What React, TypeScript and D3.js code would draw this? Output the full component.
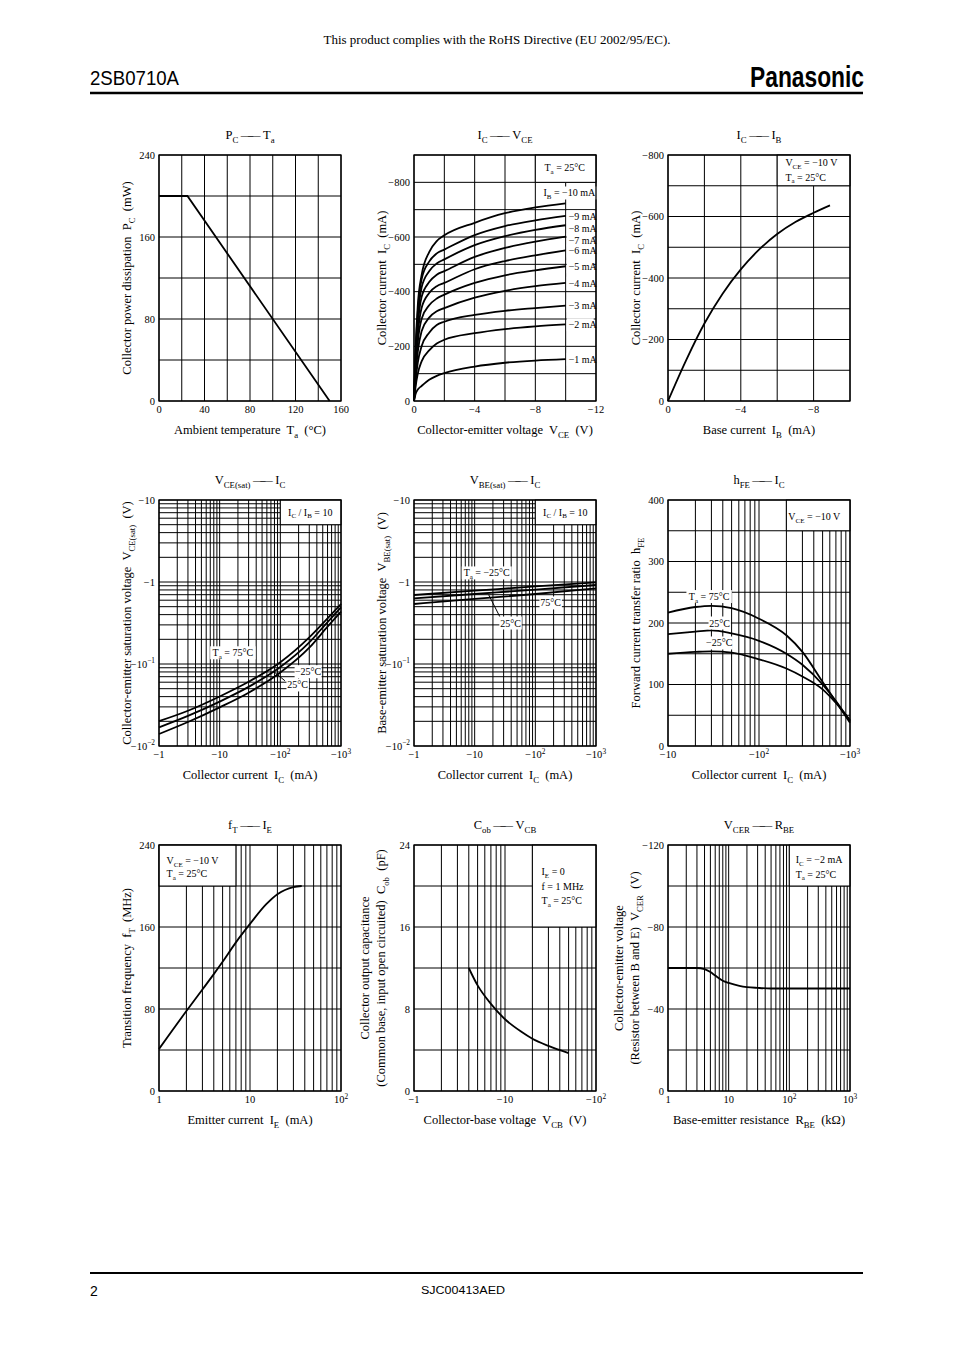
import React from "react";
import * as d3 from "d3";

const SERIF = "'Liberation Serif','Times New Roman',Times,serif";
const SANS = "'Liberation Sans',Arial,Helvetica,sans-serif";

// ---------------- DATA ----------------
// PC - Ta
const pcTaTemp = [0, 25, 150];
const pcTaPower = [200, 200, 0];
const pcTaXTicks = [0, 40, 80, 120, 160];
const pcTaYTicks = [0, 80, 160, 240];

// IC - VCE (Ta = 25°C)
const icVceVoltage = [0, -0.1, -0.25, -0.5, -1, -1.5, -2, -4, -6, -8, -10];
const icVceIb1 = [0, -25, -42, -55, -78, -92, -102, -126, -140, -148, -153];
const icVceIb2 = [0, -50, -100, -145, -185, -210, -224, -248, -263, -273, -280];
const icVceIb3 = [0, -70, -140, -200, -250, -278, -290, -315, -330, -340, -349];
const icVceIb4 = [0, -90, -180, -255, -305, -328, -340, -378, -403, -420, -432];
const icVceIb5 = [0, -110, -215, -300, -350, -375, -389, -432, -460, -478, -493];
const icVceIb6 = [0, -125, -245, -340, -395, -420, -432, -482, -512, -533, -551];
const icVceIb7 = [0, -140, -275, -380, -435, -462, -475, -527, -560, -583, -601];
const icVceIb8 = [0, -155, -300, -415, -475, -503, -518, -570, -603, -626, -643];
const icVceIb9 = [0, -170, -325, -445, -510, -540, -554, -607, -640, -661, -677];
const icVceIb10 = [0, -185, -350, -460, -545, -585, -606, -652, -687, -708, -723];
const icVceLabelY = [-153, -279, -348, -431, -491, -549, -589, -632, -674];
const icVceLabels = ["−1 mA", "−2 mA", "−3 mA", "−4 mA", "−5 mA", "−6 mA", "−7 mA", "−8 mA", "−9 mA"];
const icVceXTicks = [0, -4, -8, -12];
const icVceYTicks = [0, -200, -400, -600, -800];

// IC - IB
const icIbBase = [0, -1, -2, -3, -4, -5, -6, -7, -8, -8.9];
const icIbCollector = [0, -133, -252, -349, -428, -492, -543, -582, -612, -636];
const icIbXTicks = [0, -4, -8];
const icIbYTicks = [0, -200, -400, -600, -800];

// VCE(sat) - IC
const vceSatIc = [-1, -3, -10, -30, -100, -300, -600, -1000];
const vceSat75 = [-0.0201, -0.0269, -0.0402, -0.0607, -0.105, -0.211, -0.36, -0.54];
const vceSat25 = [-0.0169, -0.0233, -0.0348, -0.0526, -0.0917, -0.183, -0.325, -0.49];
const vceSatM25 = [-0.014, -0.0196, -0.0296, -0.0447, -0.0787, -0.158, -0.285, -0.435];

// VBE(sat) - IC
const vbeSatIc = [-1, -10, -100, -1000];
const vbeSatM25 = [-0.694, -0.783, -0.885, -0.99];
const vbeSat25 = [-0.632, -0.714, -0.806, -0.919];
const vbeSat75 = [-0.539, -0.621, -0.714, -0.837];

const satXTicks = [-1, -10, -100, -1000];
const satXLabels = ["−1", "−10", "−10^{2}", "−10^{3}"];
const satYTicks = [-0.01, -0.1, -1, -10];
const satYLabels = ["−10^{−2}", "−10^{−1}", "−1", "−10"];

// hFE - IC
const hfeIc = [-10, -20, -30, -50, -100, -200, -300, -500, -700, -1000];
const hfe75 = [217, 226, 228, 224, 207, 180, 153, 104, 72, 38];
const hfe25 = [182, 186, 188, 183, 171, 150, 132, 100, 73, 40];
const hfeM25 = [150, 153, 154, 152, 141, 126, 113, 92, 70, 42];
const hfeXTicks = [-10, -100, -1000];
const hfeXLabels = ["−10", "−10^{2}", "−10^{3}"];
const hfeYTicks = [0, 100, 200, 300, 400];

// fT - IE
const ftIe = [1, 2, 3, 4, 5, 7, 10, 15, 20, 30, 37];
const ftFreq = [41, 78, 99, 114, 126, 145, 163, 182, 192, 199, 200];
const ftXTicks = [1, 10, 100];
const ftXLabels = ["1", "10", "10^{2}"];
const ftYTicks = [0, 80, 160, 240];

// Cob - VCB
const cobVcb = [-4, -5, -7, -10, -15, -20, -30, -50];
const cobCap = [12, 10.3, 8.5, 7.0, 5.8, 5.1, 4.4, 3.7];
const cobXTicks = [-1, -10, -100];
const cobXLabels = ["−1", "−10", "−10^{2}"];
const cobYTicks = [0, 8, 16, 24];

// VCER - RBE
const vcerRbe = [1, 2, 3, 4, 5, 6, 8, 10, 15, 20, 30, 50, 100, 1000];
const vcerVolt = [-60, -60, -60, -59.5, -58, -56.3, -53.8, -52.7, -51.3, -50.7, -50.3, -50, -50, -50];
const vcerXTicks = [1, 10, 100, 1000];
const vcerXLabels = ["1", "10", "10^{2}", "10^{3}"];
const vcerYTicks = [0, -40, -80, -120];

// ---------------- HELPERS ----------------
const fmt = (v: number) => (v < 0 ? "−" + Math.abs(v) : String(v));
const zip = (t: number[], l?: string[]) => t.map((v, i) => [v, l ? l[i] : fmt(v)] as [number, string]);
const lin = (a: number, b: number, step: number) => {
  const out: number[] = [];
  const n = Math.round((b - a) / step);
  for (let i = 0; i <= n; i++) out.push(a + i * step);
  return out;
};
const logGrid = (a: number, b: number, sign = 1) => {
  const out: number[] = [];
  for (let d = a; d < b * 0.999; d *= 10) for (let m = 1; m < 10; m++) out.push(+(d * m).toPrecision(6));
  out.push(b);
  return out.map((v) => v * sign);
};
const plain = (s: string) => s.replace(/[_^~]\{([^}]*)\}/g, "$1");

function Rich({ x, y, s, size = 10, anchor = "start", family = SERIF, rotate = false, weight, textLength }: any) {
  const parts: string[] = s.split(/(_\{[^}]*\}|\^\{[^}]*\}|~\{[^}]*\})/).filter((p: string) => p !== "");
  let cur = 0;
  let pendingDx = 0;
  const spans = parts.map((p, i) => {
    let txt = p;
    let fs = size;
    let target = 0;
    let ls: number | undefined = undefined;
    if (p.startsWith("_{")) {
      txt = p.slice(2, -1);
      fs = size * 0.7;
      target = size * 0.28;
    } else if (p.startsWith("^{")) {
      txt = p.slice(2, -1);
      fs = size * 0.7;
      target = -size * 0.4;
    } else if (p.startsWith("~{")) {
      txt = p.slice(2, -1);
      ls = -size * 0.42;
    }
    const dy = target - cur;
    cur = target;
    const dx = pendingDx;
    pendingDx = ls !== undefined ? -ls : 0;
    return (
      <tspan key={i} dy={dy} dx={dx || undefined} fontSize={fs} letterSpacing={ls}>
        {txt}
      </tspan>
    );
  });
  return (
    <text
      x={rotate ? 0 : x}
      y={rotate ? 0 : y}
      transform={rotate ? `translate(${x},${y}) rotate(-90)` : undefined}
      textAnchor={anchor}
      fontFamily={family}
      fontSize={size}
      fontWeight={weight}
      textLength={textLength}
      lengthAdjust={textLength ? "spacingAndGlyphs" : undefined}
      style={{ whiteSpace: "pre" }}
      fill="#000"
    >
      {spans}
    </text>
  );
}

type Note = { x: number; y: number; s: string; anchor?: string; bg?: boolean };
type ChartCfg = {
  left: number;
  top: number;
  xLog: boolean;
  xDomain: [number, number];
  yLog: boolean;
  yDomain: [number, number];
  xGrid: number[];
  yGrid: number[];
  xTicks: [number, string][];
  yTicks: [number, string][];
  series: { x: number[]; y: number[] }[];
  straight?: boolean;
  box?: [number, number, number, number];
  title: string;
  xTitle: string;
  yTitle: string[];
  notes: Note[];
  arrows?: [number, number, number, number][];
};

const PW = 182;
const PH = 246;

function Chart({ c }: { c: ChartCfg }) {
  const { left, top } = c;
  const bottom = top + PH;
  const right = left + PW;
  const xs: any = (c.xLog ? d3.scaleLog() : d3.scaleLinear()).domain(c.xDomain).range([left, right]);
  const ys: any = (c.yLog ? d3.scaleLog() : d3.scaleLinear()).domain(c.yDomain).range([bottom, top]);
  const line = d3
    .line<[number, number]>()
    .x((d) => xs(d[0]))
    .y((d) => ys(d[1]))
    .curve(c.straight ? d3.curveLinear : d3.curveMonotoneX);
  const cx = left + PW / 2;
  const cy = top + PH / 2;
  return (
    <g>
      {c.xGrid.map((v, i) => (
        <line key={"gx" + i} x1={xs(v)} x2={xs(v)} y1={top} y2={bottom} stroke="#000" strokeWidth={1} />
      ))}
      {c.yGrid.map((v, i) => (
        <line key={"gy" + i} x1={left} x2={right} y1={ys(v)} y2={ys(v)} stroke="#000" strokeWidth={1} />
      ))}
      {c.box && (
        <rect
          x={Math.min(xs(c.box[0]), xs(c.box[1]))}
          y={Math.min(ys(c.box[2]), ys(c.box[3]))}
          width={Math.abs(xs(c.box[1]) - xs(c.box[0]))}
          height={Math.abs(ys(c.box[3]) - ys(c.box[2]))}
          fill="#fff"
          stroke="#000"
          strokeWidth={1}
        />
      )}
      {c.series.map((s, i) => (
        <path
          key={"s" + i}
          d={line(s.x.map((v, j) => [v, s.y[j]] as [number, number])) || ""}
          fill="none"
          stroke="#000"
          strokeWidth={1.8}
        />
      ))}
      {(c.arrows || []).map((a, i) => (
        <line key={"a" + i} x1={xs(a[0])} y1={ys(a[1])} x2={xs(a[2])} y2={ys(a[3])} stroke="#000" strokeWidth={1} />
      ))}
      {c.notes.map((n, i) => {
        const px = xs(n.x);
        const py = ys(n.y);
        const size = 10;
        const w = plain(n.s).length * size * 0.46 + 4;
        const anchor = n.anchor || "start";
        const rx = anchor === "start" ? px - 2 : anchor === "middle" ? px - w / 2 : px - w + 2;
        return (
          <g key={"n" + i}>
            {n.bg && <rect x={rx} y={py - 6.5} width={w} height={13} fill="#fff" />}
            <Rich x={px} y={py + 3.5} s={n.s} size={size} anchor={anchor} />
          </g>
        );
      })}
      <rect x={left} y={top} width={PW} height={PH} fill="none" stroke="#000" strokeWidth={1.3} />
      {c.xTicks.map(([v, l], i) => (
        <Rich key={"xt" + i} x={xs(v)} y={bottom + 12} s={l} size={10.5} anchor="middle" />
      ))}
      {c.yTicks.map(([v, l], i) => (
        <Rich key={"yt" + i} x={left - 4} y={ys(v) + 3.5} s={l} size={10.5} anchor="end" />
      ))}
      <Rich x={cx} y={top - 16} s={c.title} size={12.5} anchor="middle" />
      <Rich x={cx} y={bottom + 33} s={c.xTitle} size={12.5} anchor="middle" />
      {c.yTitle.length === 1 ? (
        <Rich x={left - 28} y={cy} s={c.yTitle[0]} size={12.5} anchor="middle" rotate />
      ) : (
        <>
          <Rich x={left - 45} y={cy} s={c.yTitle[0]} size={12.5} anchor="middle" rotate />
          <Rich x={left - 29} y={cy} s={c.yTitle[1]} size={12.5} anchor="middle" rotate />
        </>
      )}
    </g>
  );
}

const COL = [159, 414, 668];
const ROW = [155, 500, 845];
const DASH = "\u2009~{\u2014\u2014}\u2009";

const icVceSeries = [icVceIb1, icVceIb2, icVceIb3, icVceIb4, icVceIb5, icVceIb6, icVceIb7, icVceIb8, icVceIb9, icVceIb10].map(
  (y) => ({ x: icVceVoltage, y })
);

const charts: ChartCfg[] = [
  {
    left: COL[0],
    top: ROW[0],
    xLog: false,
    xDomain: [0, 160],
    yLog: false,
    yDomain: [0, 240],
    xGrid: lin(0, 160, 20),
    yGrid: lin(0, 240, 40),
    xTicks: zip(pcTaXTicks),
    yTicks: zip(pcTaYTicks),
    series: [{ x: pcTaTemp, y: pcTaPower }],
    straight: true,
    title: "P_{C}" + DASH + "T_{a}",
    xTitle: "Ambient temperature  T_{a}  (°C)",
    yTitle: ["Collector power dissipation  P_{C}  (mW)"],
    notes: [],
  },
  {
    left: COL[1],
    top: ROW[0],
    xLog: false,
    xDomain: [0, -12],
    yLog: false,
    yDomain: [0, -900],
    xGrid: lin(0, -12, -2),
    yGrid: lin(0, -900, -100),
    xTicks: zip(icVceXTicks),
    yTicks: zip(icVceYTicks),
    series: icVceSeries,
    box: [-8, -12, -800, -900],
    title: "I_{C}" + DASH + "V_{CE}",
    xTitle: "Collector-emitter voltage  V_{CE}  (V)",
    yTitle: ["Collector current  I_{C}  (mA)"],
    notes: [
      { x: -8.6, y: -855, s: "T_{a} = 25°C" },
      { x: -11.95, y: -761, s: "I_{B} = −10 mA", anchor: "end", bg: true },
      ...icVceLabelY.map((y, i) => ({ x: -10.2, y, s: icVceLabels[i], bg: true })),
    ],
  },
  {
    left: COL[2],
    top: ROW[0],
    xLog: false,
    xDomain: [0, -10],
    yLog: false,
    yDomain: [0, -800],
    xGrid: lin(0, -10, -2),
    yGrid: lin(0, -800, -100),
    xTicks: zip(icIbXTicks),
    yTicks: zip(icIbYTicks),
    series: [{ x: icIbBase, y: icIbCollector }],
    box: [-6, -10, -700, -800],
    title: "I_{C}" + DASH + "I_{B}",
    xTitle: "Base current  I_{B}  (mA)",
    yTitle: ["Collector current  I_{C}  (mA)"],
    notes: [
      { x: -6.45, y: -774, s: "V_{CE} = −10 V" },
      { x: -6.45, y: -728, s: "T_{a} = 25°C" },
    ],
  },
  {
    left: COL[0],
    top: ROW[1],
    xLog: true,
    xDomain: [-1, -1000],
    yLog: true,
    yDomain: [-0.01, -10],
    xGrid: logGrid(1, 1000, -1),
    yGrid: logGrid(0.01, 10, -1),
    xTicks: zip(satXTicks, satXLabels),
    yTicks: zip(satYTicks, satYLabels),
    series: [
      { x: vceSatIc, y: vceSat75 },
      { x: vceSatIc, y: vceSat25 },
      { x: vceSatIc, y: vceSatM25 },
    ],
    box: [-100, -1000, -5, -10],
    title: "V_{CE(sat)}" + DASH + "I_{C}",
    xTitle: "Collector current  I_{C}  (mA)",
    yTitle: ["Collector-emitter saturation voltage  V_{CE(sat)}  (V)"],
    notes: [
      { x: -134, y: -7.1, s: "I_{C} / I_{B} = 10" },
      { x: -16.5, y: -0.137, s: "T_{a} = 75°C", anchor: "middle", bg: true },
      { x: -287, y: -0.0806, s: "−25°C", anchor: "middle", bg: true },
      { x: -193, y: -0.0555, s: "25°C", anchor: "middle", bg: true },
    ],
    arrows: [[-119, -0.0625, -76, -0.082]],
  },
  {
    left: COL[1],
    top: ROW[1],
    xLog: true,
    xDomain: [-1, -1000],
    yLog: true,
    yDomain: [-0.01, -10],
    xGrid: logGrid(1, 1000, -1),
    yGrid: logGrid(0.01, 10, -1),
    xTicks: zip(satXTicks, satXLabels),
    yTicks: zip(satYTicks, satYLabels),
    series: [
      { x: vbeSatIc, y: vbeSatM25 },
      { x: vbeSatIc, y: vbeSat25 },
      { x: vbeSatIc, y: vbeSat75 },
    ],
    box: [-100, -1000, -5, -10],
    title: "V_{BE(sat)}" + DASH + "I_{C}",
    xTitle: "Collector current  I_{C}  (mA)",
    yTitle: ["Base-emitter saturation voltage  V_{BE(sat)}  (V)"],
    notes: [
      { x: -134, y: -7.1, s: "I_{C} / I_{B} = 10" },
      { x: -15.8, y: -1.29, s: "T_{a} = −25°C", anchor: "middle", bg: true },
      { x: -179, y: -0.555, s: "75°C", anchor: "middle", bg: true },
      { x: -39, y: -0.316, s: "25°C", anchor: "middle", bg: true },
    ],
    arrows: [[-26, -0.377, -17, -0.7]],
  },
  {
    left: COL[2],
    top: ROW[1],
    xLog: true,
    xDomain: [-10, -1000],
    yLog: false,
    yDomain: [0, 400],
    xGrid: logGrid(10, 1000, -1),
    yGrid: lin(0, 400, 50),
    xTicks: zip(hfeXTicks, hfeXLabels),
    yTicks: zip(hfeYTicks),
    series: [
      { x: hfeIc, y: hfe75 },
      { x: hfeIc, y: hfe25 },
      { x: hfeIc, y: hfeM25 },
    ],
    box: [-200, -1000, 350, 400],
    title: "h_{FE}" + DASH + "I_{C}",
    xTitle: "Collector current  I_{C}  (mA)",
    yTitle: ["Forward current transfer ratio  h_{FE}"],
    notes: [
      { x: -210, y: 373, s: "V_{CE} = −10 V" },
      { x: -28.3, y: 243, s: "T_{a} = 75°C", anchor: "middle", bg: true },
      { x: -37, y: 200, s: "25°C", anchor: "middle", bg: true },
      { x: -36.5, y: 167.5, s: "−25°C", anchor: "middle", bg: true },
    ],
  },
  {
    left: COL[0],
    top: ROW[2],
    xLog: true,
    xDomain: [1, 100],
    yLog: false,
    yDomain: [0, 240],
    xGrid: logGrid(1, 100),
    yGrid: lin(0, 240, 40),
    xTicks: zip(ftXTicks, ftXLabels),
    yTicks: zip(ftYTicks),
    series: [{ x: ftIe, y: ftFreq }],
    box: [1, 7, 200, 240],
    title: "f_{T}" + DASH + "I_{E}",
    xTitle: "Emitter current  I_{E}  (mA)",
    yTitle: ["Transition frequency  f_{T}  (MHz)"],
    notes: [
      { x: 1.21, y: 225, s: "V_{CE} = −10 V" },
      { x: 1.21, y: 212, s: "T_{a} = 25°C" },
    ],
  },
  {
    left: COL[1],
    top: ROW[2],
    xLog: true,
    xDomain: [-1, -100],
    yLog: false,
    yDomain: [0, 24],
    xGrid: logGrid(1, 100, -1),
    yGrid: lin(0, 24, 4),
    xTicks: zip(cobXTicks, cobXLabels),
    yTicks: zip(cobYTicks),
    series: [{ x: cobVcb, y: cobCap }],
    box: [-20, -100, 16, 24],
    title: "C_{ob}" + DASH + "V_{CB}",
    xTitle: "Collector-base voltage  V_{CB}  (V)",
    yTitle: ["Collector output capacitance", "(Common base, input open circuited)  C_{ob}  (pF)"],
    notes: [
      { x: -25.2, y: 21.4, s: "I_{E} = 0" },
      { x: -25.2, y: 20, s: "f = 1 MHz" },
      { x: -25.2, y: 18.6, s: "T_{a} = 25°C" },
    ],
  },
  {
    left: COL[2],
    top: ROW[2],
    xLog: true,
    xDomain: [1, 1000],
    yLog: false,
    yDomain: [0, -120],
    xGrid: logGrid(1, 1000),
    yGrid: lin(0, -120, -20),
    xTicks: zip(vcerXTicks, vcerXLabels),
    yTicks: zip(vcerYTicks),
    series: [{ x: vcerRbe, y: vcerVolt }],
    box: [100, 1000, -100, -120],
    title: "V_{CER}" + DASH + "R_{BE}",
    xTitle: "Base-emitter resistance  R_{BE}  (kΩ)",
    yTitle: ["Collector-emitter voltage", "(Resistor between B and E)  V_{CER}  (V)"],
    notes: [
      { x: 127, y: -112.7, s: "I_{C} = −2 mA" },
      { x: 127, y: -105.8, s: "T_{a} = 25°C" },
    ],
  },
];

export default function App() {
  return (
    <svg
      width={954}
      height={1350}
      viewBox="0 0 954 1350"
      style={{ position: "absolute", left: 0, top: 0, background: "#fff" }}
    >
      <rect x={0} y={0} width={954} height={1350} fill="#fff" />
      <Rich x={497} y={44} s="This product complies with the RoHS Directive (EU 2002/95/EC)." size={12} anchor="middle" textLength={347} />
      <Rich x={90} y={85} s="2SB0710A" size={21} family={SANS} textLength={89} />
      <Rich x={864} y={87} s="Panasonic" size={29} family={SANS} weight="bold" anchor="end" textLength={114} />
      <line x1={90} x2={863} y1={93} y2={93} stroke="#000" strokeWidth={2.5} />
      {charts.map((c, i) => (
        <Chart key={i} c={c} />
      ))}
      <line x1={90} x2={863} y1={1273} y2={1273} stroke="#000" strokeWidth={2} />
      <Rich x={90} y={1296} s="2" size={14} family={SANS} />
      <Rich x={463} y={1294} s="SJC00413AED" size={10} family={SANS} anchor="middle" textLength={84} />
    </svg>
  );
}
